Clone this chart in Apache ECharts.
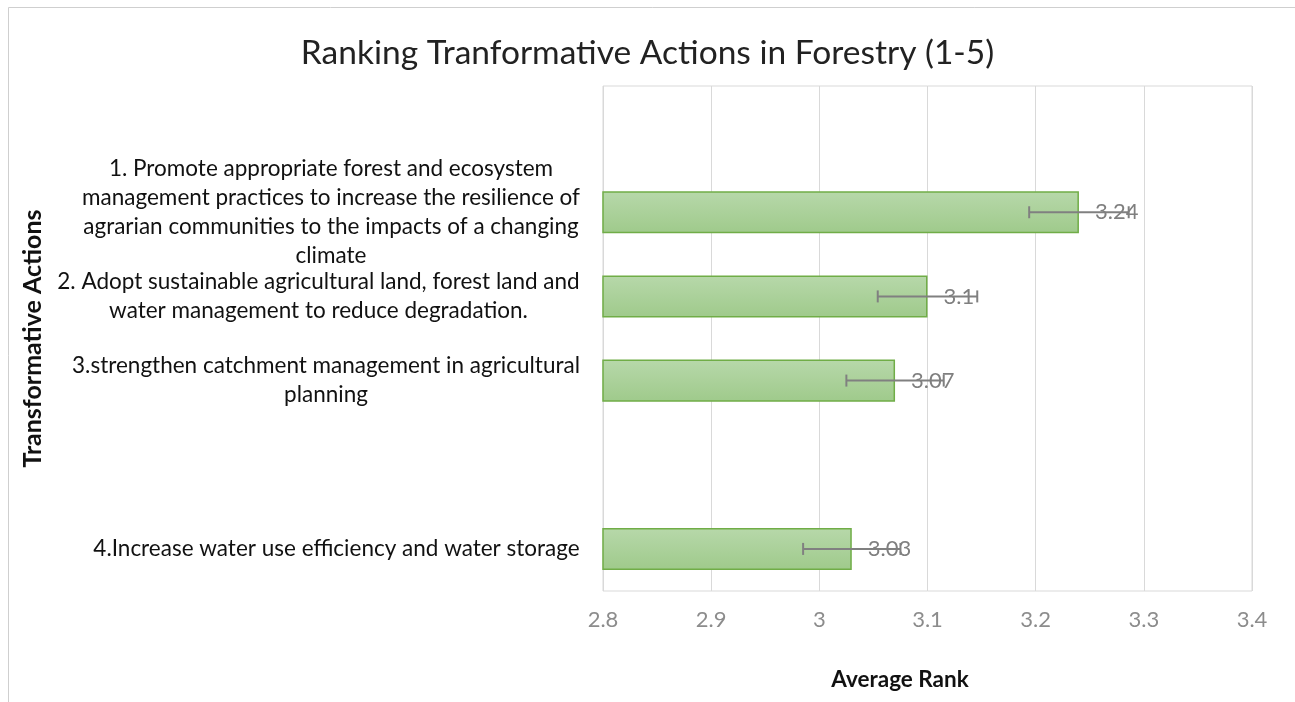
<!DOCTYPE html>
<html>
<head>
<meta charset="utf-8">
<script src="https://cdn.jsdelivr.net/npm/echarts@6/dist/echarts.min.js"></script>
<style>
  html, body { margin: 0; padding: 0; background: #fff; }
  #main { width: 1295px; height: 702px; }
</style>
</head>
<body>
<div id="main"></div>
<script>
// categories, top to bottom (blank rows kept as in the sheet)
var categories = [
    '',
    '1. Promote appropriate forest and ecosystem\nmanagement practices to increase the resilience of\nagrarian communities to the impacts of a changing\nclimate',
    '2. Adopt sustainable agricultural land, forest land and\nwater management to reduce degradation.',
    '3.strengthen catchment management in agricultural\nplanning',
    '',
    '4.Increase water use efficiency and water storage'
];
var avgRank = ['-', 3.24, 3.10, 3.07, '-', 3.03];
var errSize = [null, 0.046, 0.046, 0.045, null, 0.045];
var xTicks = [2.8, 2.9, 3, 3.1, 3.2, 3.3, 3.4];

var FONT = 'Lato';
var LABEL_SIZE = 22.5;

// width of the widest line per label so lines can be centred inside a right-aligned block
var ctx = document.createElement('canvas').getContext('2d');
ctx.font = LABEL_SIZE + 'px ' + FONT;
var rich = {};
categories.forEach(function (c, i) {
    var w = 0;
    c.split('\n').forEach(function (line) {
        w = Math.max(w, ctx.measureText(line).width);
    });
    rich['r' + i] = {
        width: Math.ceil(w) + 2,
        align: 'center',
        fontSize: LABEL_SIZE,
        lineHeight: 29,
        fontFamily: FONT,
        color: '#111'
    };
});

// error bar data: [category index, low, high]
var errData = [];
for (var i = 0; i < avgRank.length; i++) {
    if (avgRank[i] === '-') continue;
    errData.push([i, avgRank[i] - errSize[i], avgRank[i] + errSize[i]]);
}

var myChart = echarts.init(document.getElementById('main'));

myChart.setOption({
    animation: false,
    title: {
        text: 'Ranking Tranformative Actions in Forestry (1-5)',
        left: 'center',
        top: 31,
        textStyle: {
            fontFamily: FONT,
            fontWeight: 'normal',
            fontSize: 33.5,
            color: '#222'
        }
    },
    graphic: [
        {
            type: 'rect',
            shape: { x: 8.5, y: 7.5, width: 1300, height: 710 },
            style: { fill: 'none', stroke: '#cfcfcf', lineWidth: 1 },
            silent: true
        },
        {
            type: 'text',
            x: 900,
            y: 680,
            style: {
                text: 'Average Rank',
                align: 'center',
                verticalAlign: 'middle',
                fontFamily: FONT,
                fontWeight: 'bold',
                fontSize: 22.5,
                fill: '#111'
            }
        }
    ],
    grid: {
        left: 603,
        right: 43,
        top: 86,
        bottom: 111,
        show: true,
        borderColor: '#d9d9d9',
        borderWidth: 1
    },
    xAxis: {
        type: 'value',
        min: xTicks[0],
        max: xTicks[xTicks.length - 1],
        interval: 0.1,
        axisLine: { show: false },
        axisTick: { show: false },
        splitLine: { lineStyle: { color: '#d9d9d9', width: 1 } },
        axisLabel: {
            margin: 18,
            fontFamily: FONT,
            fontSize: 22,
            color: '#8c8c8c',
            formatter: function (v) { return String(Math.round(v * 10) / 10); }
        }
    },
    yAxis: {
        type: 'category',
        inverse: true,
        data: categories,
        name: 'Transformative Actions',
        nameLocation: 'middle',
        nameRotate: 90,
        nameGap: 556,
        nameTextStyle: {
            fontFamily: FONT,
            fontWeight: 'bold',
            fontSize: 25,
            color: '#111'
        },
        axisLine: { show: false },
        axisTick: { show: false },
        splitLine: { show: false },
        axisLabel: {
            margin: 22,
            interval: 0,
            formatter: function (value, index) {
                if (!value) return '';
                return value.split('\n').map(function (line) {
                    return '{r' + index + '|' + line + '}';
                }).join('\n');
            },
            rich: rich
        }
    },
    series: [
        {
            type: 'bar',
            data: avgRank,
            barWidth: '50%',
            itemStyle: {
                color: new echarts.graphic.LinearGradient(0, 0, 0, 1, [
                    { offset: 0, color: '#b7d8aa' },
                    { offset: 1, color: '#9fca8b' }
                ]),
                borderColor: '#70ad47',
                borderWidth: 1.5
            },
            label: {
                show: true,
                position: 'right',
                distance: 16,
                fontFamily: FONT,
                fontSize: 22,
                color: '#7f7f7f',
                formatter: function (p) { return String(p.value); }
            }
        },
        {
            type: 'custom',
            data: errData,
            encode: { y: 0, x: [1, 2] },
            z: 5,
            renderItem: function (params, api) {
                var cat = api.value(0);
                var lo = api.coord([api.value(1), cat]);
                var hi = api.coord([api.value(2), cat]);
                var h = 6;
                var style = { stroke: '#808080', lineWidth: 2, fill: null };
                return {
                    type: 'group',
                    children: [
                        { type: 'line', shape: { x1: lo[0], y1: lo[1], x2: hi[0], y2: hi[1] }, style: style },
                        { type: 'line', shape: { x1: lo[0], y1: lo[1] - h, x2: lo[0], y2: lo[1] + h }, style: style },
                        { type: 'line', shape: { x1: hi[0], y1: hi[1] - h, x2: hi[0], y2: hi[1] + h }, style: style }
                    ]
                };
            }
        }
    ]
});
</script>
</body>
</html>
